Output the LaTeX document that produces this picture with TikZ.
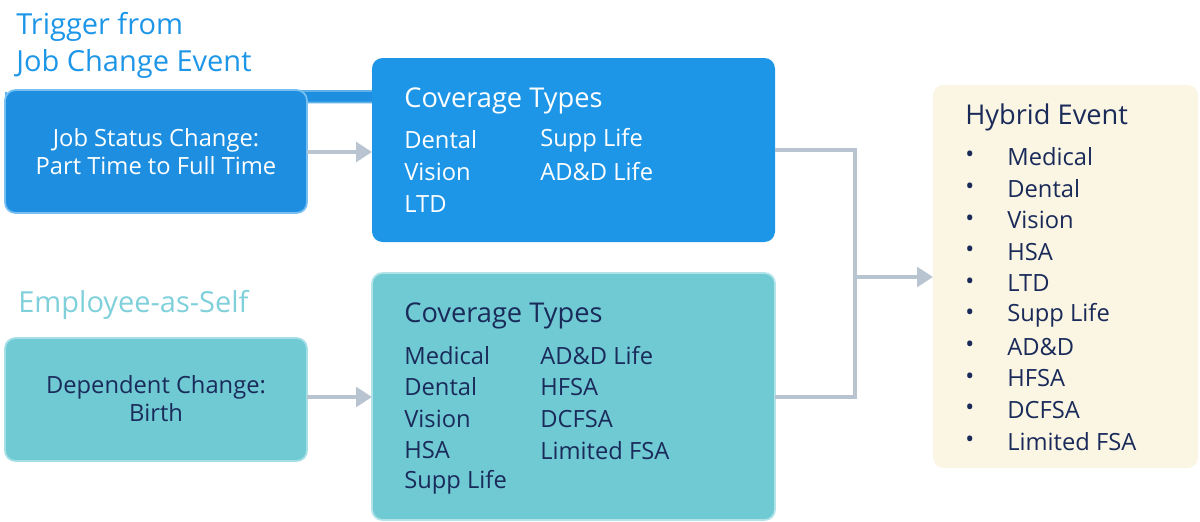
\documentclass[tikz,border=0pt]{standalone}
\usepackage{fontspec}
\setmainfont{Open Sans}
\usetikzlibrary{positioning,arrows.meta}
\definecolor{jobblue}{HTML}{1E8FE0}
\definecolor{covblue}{HTML}{1E96E8}
\definecolor{selfteal}{HTML}{6FCAD4}
\definecolor{tealhead}{HTML}{7FD0DA}
\definecolor{hybridbg}{HTML}{FBF6E3}
\definecolor{navytext}{HTML}{1A2B5A}
\definecolor{linkgrey}{HTML}{B8C4D0}
\tikzset{
  box/.style={draw=#1!70!white, line width=1pt, fill=#1, rounded corners=6pt, anchor=north west},
  item/.style={anchor=west, inner sep=0pt, font=\fontsize{13.5pt}{16pt}\selectfont},
  head/.style={anchor=west, inner sep=0pt, font=\fontsize{15.5pt}{18pt}\selectfont},
  link/.style={linkgrey, line width=2.6pt},
  linkarrow/.style={link, -{Triangle[length=9pt,width=11pt]}},
}
\begin{document}
\begin{tikzpicture}[x=0.02cm, y=-0.02cm]
\useasboundingbox (0,0) rectangle (1200,521);
% titles
\node[head, covblue, align=left, anchor=north west, font=\fontsize{16.5pt}{21pt}\selectfont] (trigtitle) at (16,12) {Trigger from\\Job Change Event};
\node[head, tealhead, font=\fontsize{16.5pt}{21pt}\selectfont] (selftitle) at (18,305) {Employee-as-Self};
% left boxes
\node[box=jobblue, minimum width=302\pgflinewidth, text=white] (jobbox) at (5,90) {};
\fill[jobblue, rounded corners=6pt] (5,90) rectangle (307,213);
\draw[covblue!60!white, rounded corners=6pt, line width=1pt] (5,90) rectangle (307,213);
\coordinate (jobR) at (307,152);
\node[item, anchor=center, align=center, text=white] (jobtext) at (156,152) {Job Status Change:\\Part Time to Full Time};
\fill[selfteal, rounded corners=6pt] (5,338) rectangle (307,461);
\draw[tealhead!70!white, rounded corners=6pt, line width=1pt] (5,338) rectangle (307,461);
\coordinate (selfR) at (307,397);
\node[item, anchor=center, align=center, text=navytext] (selftext) at (156,399) {Dependent Change:\\Birth};
% coverage boxes
\fill[covblue, rounded corners=6pt] (372,58) rectangle (775,242);
\coordinate (covAL) at (372,152);
\coordinate (covAR) at (775,150);
\node[head, white] (covAhead) at (404,101) {Coverage Types};
\foreach \t [count=\i] in {Dental,Vision,LTD}
  \node[item, white] at (404,108+32*\i) {\t};
\foreach \t [count=\i] in {Supp Life,AD\&D Life}
  \node[item, white] at (540,108+32*\i) {\t};
\fill[selfteal, rounded corners=6pt] (372,273) rectangle (775,520);
\draw[tealhead!60!white, rounded corners=6pt, line width=1pt] (372,273) rectangle (775,520);
\coordinate (covBL) at (372,397);
\coordinate (covBR) at (775,397);
\node[head, navytext] (covBhead) at (404,316) {Coverage Types};
\foreach \t [count=\i] in {Medical,Dental,Vision,HSA,Supp Life}
  \node[item, navytext] at (404,323.5+31.7*\i) {\t};
\foreach \t [count=\i] in {AD\&D Life,HFSA,DCFSA,Limited FSA}
  \node[item, navytext] at (540,323.5+31.7*\i) {\t};
% hybrid box
\fill[hybridbg, rounded corners=6pt] (933,85) rectangle (1198,468);
\coordinate (hybL) at (933,277);
\node[head, navytext] (hybhead) at (965,117) {Hybrid Event};
\foreach \t [count=\i] in {Medical,Dental,Vision,HSA,LTD,Supp Life,AD\&D,HFSA,DCFSA,Limited FSA}{
  \node[item, navytext] at (965,125.5+31.6*\i) {\textbullet};
  \node[item, navytext] at (1007,125.5+31.6*\i) {\t};
}
% connectors
\coordinate (joinT) at (855,150);
\coordinate (joinB) at (855,397);
\coordinate (joinM) at (855,277);
\draw[linkarrow] (jobR) -- (covAL);
\draw[linkarrow] (selfR) -- (covBL);
\draw[link] (covAR) -- (joinT) -- (joinB) -- (covBR);
\draw[linkarrow] (joinM) -- (hybL);
\end{tikzpicture}
\end{document}
